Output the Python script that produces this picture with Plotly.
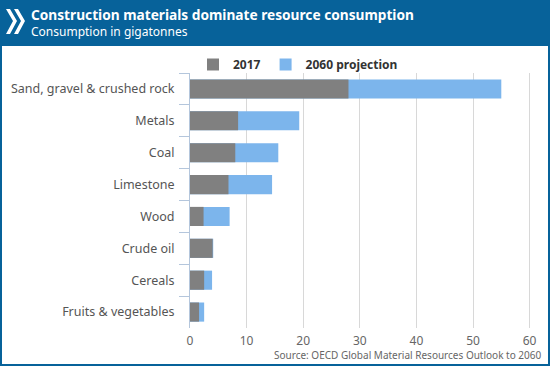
import plotly.graph_objects as go

categories = ["Sand, gravel & crushed rock", "Metals", "Coal", "Limestone",
              "Wood", "Crude oil", "Cereals", "Fruits & vegetables"]
values_2017 = [28.0, 8.5, 8.0, 6.8, 2.4, 4.0, 2.5, 1.6]
values_2060 = [55.0, 19.3, 15.6, 14.5, 7.0, 4.1, 3.9, 2.5]
x_ticks = [0, 10, 20, 30, 40, 50, 60]

W, H = 550, 366
L, R, T, B = 190, 4, 73, 38
PW, PH = W - L - R, H - T - B
BLUE = "#07629a"
FONT = "Noto Sans"
AXIS = "#b4c6dc"


def px(p):
    return (p - L) / PW


def py(p):
    return 1 - (p - T) / PH


fig = go.Figure()
fig.add_trace(go.Bar(y=categories, x=values_2060, orientation="h", name="2060 projection",
                     marker=dict(color="#7cb5ec", line=dict(width=0)), legendrank=2))
fig.add_trace(go.Bar(y=categories, x=values_2017, orientation="h", name="2017",
                     marker=dict(color="#808080", line=dict(width=0)), legendrank=1))

shapes = [
    dict(type="rect", xref="paper", yref="paper", x0=px(0), x1=px(W), y0=py(46), y1=py(0),
         fillcolor=BLUE, line=dict(width=0), layer="above"),
    dict(type="rect", xref="paper", yref="paper", x0=px(1), x1=px(549), y0=py(365), y1=py(1),
         line=dict(color=BLUE, width=2), fillcolor="rgba(0,0,0,0)"),
]


def chevron(x0):
    pts = [(x0, 9), (x0 + 7, 21), (x0, 34), (x0 + 4, 34), (x0 + 11, 21), (x0 + 4, 9)]
    d = "M " + " L ".join(f"{px(a)},{py(b)}" for a, b in pts) + " Z"
    return dict(type="path", xref="paper", yref="paper", path=d, fillcolor="white",
                line=dict(width=0), layer="above")


shapes += [chevron(6), chevron(14)]

annotations = [
    dict(text="<b>Construction materials dominate resource consumption</b>", xref="paper", yref="paper",
         x=px(29), y=py(15), xanchor="left", yanchor="middle", showarrow=False,
         font=dict(family=FONT, size=13.7, color="white")),
    dict(text="Consumption in gigatonnes", xref="paper", yref="paper",
         x=px(29), y=py(32), xanchor="left", yanchor="middle", showarrow=False,
         font=dict(family=FONT, size=12, color="white")),
    dict(text="Source: OECD Global Material Resources Outlook to 2060", xref="paper", yref="paper",
         x=px(544), y=py(355), xanchor="right", yanchor="middle", showarrow=False,
         font=dict(family=FONT, size=10, color="#666666")),
]

fig.update_layout(
    width=W, height=H,
    margin=dict(l=L, r=R, t=T, b=B),
    paper_bgcolor="white", plot_bgcolor="white",
    barmode="overlay", bargap=0.4,
    font=dict(family=FONT, size=12, color="#555555"),
    showlegend=True,
    legend=dict(orientation="h", x=px(193), y=py(50), xanchor="left", yanchor="top",
                font=dict(family=FONT, size=12, color="#333333", weight="bold"),
                bgcolor="rgba(0,0,0,0)", itemwidth=30, traceorder="normal"),
    shapes=shapes,
    annotations=annotations,
    xaxis=dict(range=[0, PW / 56.6 * 10], tickvals=x_ticks, ticktext=[str(v) for v in x_ticks],
               showgrid=True, gridcolor="#d8d8d8", gridwidth=1, zeroline=False, showline=False,
               ticks="", ticklabelstandoff=4, tickfont=dict(size=12, color="#666666"), fixedrange=True),
    yaxis=dict(type="category", categoryorder="array", categoryarray=categories, autorange="reversed",
               showline=True, linecolor=AXIS, linewidth=1, ticks="outside", ticklen=10,
               tickwidth=1, tickcolor=AXIS, tickson="boundaries", showgrid=False,
               ticklabelstandoff=12,
               tickfont=dict(size=12.5, color="#555555"), fixedrange=True),
)

fig.write_html("out.html", config={"displayModeBar": False},
               post_script="document.body.style.margin='0';document.body.style.overflow='hidden';")
